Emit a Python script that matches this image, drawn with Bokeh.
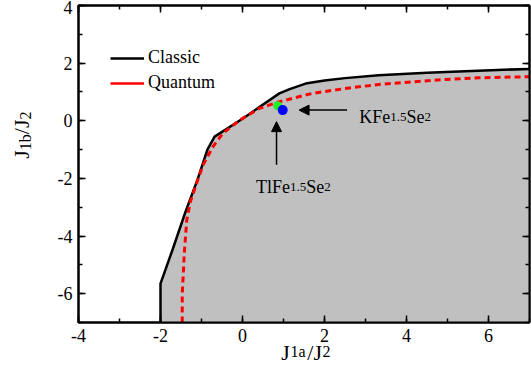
import math
from bokeh.plotting import figure
from bokeh.models import (Range1d, LinearAxis, FixedTicker, Label, Arrow,
                          NormalHead, Legend, LegendItem)
from bokeh.embed import file_html
from bokeh.resources import INLINE

# ---------------- data ----------------
classic_x = [-2.0, -2.0, -1.7, -1.4, -1.1, -0.85, -0.68, 0.0, 0.9, 1.15, 1.54, 2.0, 2.5, 3.32, 4.5, 5.75, 7.0]
classic_y = [-7.0, -5.65, -4.45, -3.2, -2.05, -0.98, -0.55, 0.07, 0.95, 1.1, 1.29, 1.4, 1.48, 1.58, 1.67, 1.74, 1.8]

quantum_x = [-1.47, -1.47, -1.44, -1.42, -1.36, -1.27, -1.12, -0.96, -0.72, -0.48, -0.07, 0.41, 0.9, 1.7, 2.51, 3.32, 4.13, 4.94, 5.75, 7.0]
quantum_y = [-7.0, -6.0, -5.2, -4.6, -3.45, -2.8, -2.17, -1.53, -0.9, -0.44, 0.02, 0.43, 0.66, 0.95, 1.12, 1.26, 1.35, 1.43, 1.49, 1.53]

green_x = [0.86]
green_y = [0.52]
blue_x = [0.98]
blue_y = [0.37]

x_major = [-4, -2, 0, 2, 4, 6]
x_minor = [-4, -3, -2, -1, 0, 1, 2, 3, 4, 5, 6, 7]
y_major = [-6, -4, -2, 0, 2, 4]
y_minor = [-7, -6, -5, -4, -3, -2, -1, 0, 1, 2, 3, 4]

legend_labels = ["Classic", "Quantum"]

# axis titles split into normal-size and subscript pieces
xtitle_big = ["J", "/J"]
xtitle_small = ["1a", "2"]
ytitle_big = ["J", "/J"]
ytitle_small = ["1b", "2"]

# ---------------- layout (piece centres along the axes) ----------------
xtitle_big_at = [1.05, 1.761]
xtitle_small_at = [1.354, 2.046]
ytitle_big_at = [-1.17, -0.212]
ytitle_small_at = [-0.743, 0.18]

FONT = "Liberation Serif"

p = figure(width=531, height=377, x_range=Range1d(-4, 7), y_range=Range1d(-7, 4),
           output_backend="svg", toolbar_location=None,
           min_border_left=78, min_border_right=2, min_border_top=5, min_border_bottom=55)
p.xgrid.visible = False
p.ygrid.visible = False
p.background_fill_color = "white"
p.border_fill_color = "white"
p.outline_line_color = "black"
p.outline_line_width = 2


def style_axis(ax, major, minor, show_labels=True):
    ax.ticker = FixedTicker(ticks=major, minor_ticks=minor)
    ax.axis_line_width = 2
    ax.axis_line_color = "black"
    ax.major_tick_in = 7
    ax.major_tick_out = 0
    ax.minor_tick_in = 4
    ax.minor_tick_out = 0
    ax.major_tick_line_width = 1.5
    ax.minor_tick_line_width = 1.5
    ax.major_tick_line_color = "black"
    ax.minor_tick_line_color = "black"
    ax.major_label_text_font = FONT
    ax.major_label_text_color = "black"
    ax.major_label_text_font_size = "18px"
    if show_labels:
        ax.major_label_overrides = {t: str(t) for t in major}
        ax.major_label_standoff = 6
    else:
        ax.major_label_overrides = {t: "" for t in major}
        ax.major_label_standoff = 0
    ax.axis_label = None


style_axis(p.xaxis[0], x_major, x_minor)
style_axis(p.yaxis[0], y_major, y_minor)
top = LinearAxis()
style_axis(top, x_major, x_minor, show_labels=False)
p.add_layout(top, "above")
right = LinearAxis()
style_axis(right, y_major, y_minor, show_labels=False)
p.add_layout(right, "right")


def title_axis(side, positions, texts, size, standoff, orientation):
    ax = LinearAxis(ticker=FixedTicker(ticks=positions, minor_ticks=[]),
                    major_label_overrides=dict(zip(positions, texts)),
                    major_label_text_font=FONT, major_label_text_font_size=f"{size}px",
                    major_label_text_color="black", major_label_standoff=standoff,
                    major_label_orientation=orientation,
                    axis_line_color=None, major_tick_line_color=None,
                    minor_tick_line_color=None, major_tick_in=0, major_tick_out=0,
                    minor_tick_in=0, minor_tick_out=0, axis_label=None)
    p.add_layout(ax, side)


# x title: subscripts first (closer to frame), then normal pieces pulled up
title_axis("below", xtitle_small_at, xtitle_small, 16, -2, "horizontal")
title_axis("below", xtitle_big_at, xtitle_big, 22, -23, "horizontal")
# y title: subscripts first, then normal pieces pulled inwards
title_axis("left", ytitle_small_at, ytitle_small, 16, 20, "vertical")
title_axis("left", ytitle_big_at, ytitle_big, 22, -20, "vertical")

# gray region below the classic boundary
fill_x = classic_x + [classic_x[-1]]
fill_y = classic_y + [classic_y[0]]
p.patch(fill_x, fill_y, fill_color="#c0c0c0", line_color=None)

classic = p.line(classic_x, classic_y, line_color="black", line_width=2.5)
p.line(quantum_x, quantum_y, line_color="#ff0000", line_width=3, line_dash="6 4")
quantum_proxy = p.line([float("nan")], [float("nan")], line_color="#ff0000", line_width=2.5)

p.scatter(green_x, green_y, size=9, fill_color="#22ee22", line_color=None)
p.scatter(blue_x, blue_y, size=10, fill_color="#0000ff", line_color=None)

# arrows
p.add_layout(Arrow(end=NormalHead(size=10, fill_color="black", line_color="black"),
                   x_start=2.55, y_start=0.37, x_end=1.38, y_end=0.37,
                   line_width=1.5, line_color="black"))
p.add_layout(Arrow(end=NormalHead(size=10, fill_color="black", line_color="black"),
                   x_start=0.83, y_start=-1.53, x_end=0.83, y_end=-0.03,
                   line_width=1.5, line_color="black"))

legend = Legend(items=[LegendItem(label=legend_labels[0], renderers=[classic]),
                       LegendItem(label=legend_labels[1], renderers=[quantum_proxy])],
                location=(32, 229), glyph_width=34, glyph_height=20, label_height=20,
                spacing=4, padding=0, margin=0, label_standoff=4,
                border_line_alpha=0, background_fill_alpha=0,
                label_text_font=FONT, label_text_font_size="18px",
                label_text_color="black")
p.add_layout(legend)

# compound annotations with subscripts
WID = {'K': 722, 'F': 556, 'e': 444, '1': 500, '.': 250, '5': 500, 'S': 556, '2': 500,
       'T': 611, 'l': 278}


def twidth(s, size):
    return sum(WID[c] for c in s) * size / 1000.0


def rich(x, y, parts):
    off = 0.0
    for txt, size in parts:
        p.add_layout(Label(x=x, y=y, x_offset=off, text=txt, text_font=FONT,
                           text_font_size=f"{size}px", text_color="black",
                           text_align="left", text_baseline="alphabetic"))
        off += twidth(txt, size)


rich(2.85, 0.12, [("KFe", 18), ("1.5", 13), ("Se", 18), ("2", 13)])
rich(0.33, -2.3, [("TlFe", 18), ("1.5", 13), ("Se", 18), ("2", 13)])

open("out.html", "w").write(file_html(p, INLINE))
